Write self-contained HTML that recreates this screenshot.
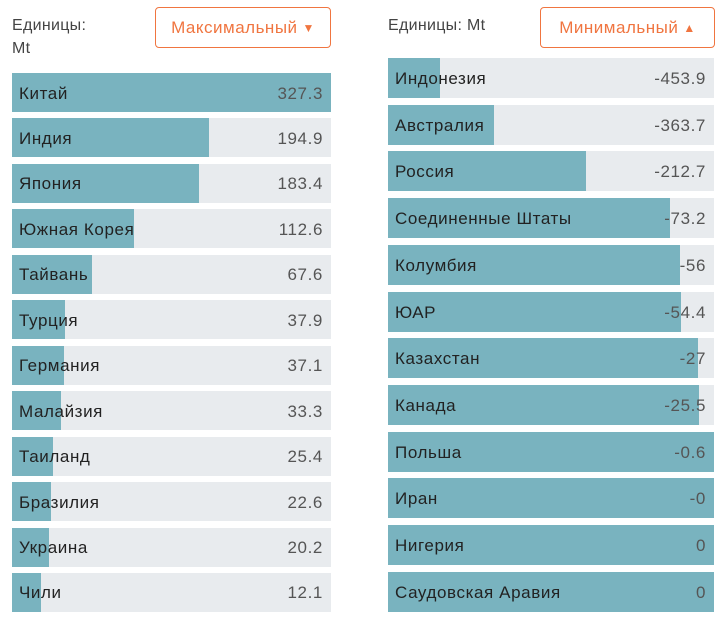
<!DOCTYPE html>
<html><head><meta charset="utf-8"><style>
body{margin:0;width:718px;height:622px;background:#fff;font-family:"Liberation Sans","DejaVu Sans",sans-serif;position:relative;overflow:hidden;color:#333}
.unit{position:absolute;font-size:16px;color:#444;line-height:23px;letter-spacing:0.3px}
.btn{position:absolute;border:1px solid #f07540;border-radius:4px;color:#f07540;font-size:17px;letter-spacing:0.5px;box-sizing:border-box;display:flex;align-items:center;justify-content:center;background:#fff;padding-top:1px}
.row{position:absolute;background:#e8ebee}
.bar{position:absolute;left:0;top:0;bottom:0;background:#79b3bf}
.lab{position:absolute;left:7px;top:2px;bottom:0;display:flex;align-items:center;font-size:17px;letter-spacing:0.6px;color:#222}
.val{position:absolute;right:8px;top:2px;bottom:0;display:flex;align-items:center;font-size:17px;letter-spacing:0.6px;color:#555}
</style></head><body>
<div class="unit" style="left:12px;top:14px">Единицы:<br>Mt</div>
<div class="btn" style="left:155px;top:7px;width:176px;height:41px">Максимальный <span style="font-size:12px;margin-left:5px">▼</span></div>
<div class="unit" style="left:388px;top:14px">Единицы: Mt</div>
<div class="btn" style="left:540px;top:7px;width:175px;height:41px">Минимальный <span style="font-size:12px;margin-left:5px">▲</span></div>
<div id="left"></div>
<div id="right"></div>
<script>
const leftNames=["Китай","Индия","Япония","Южная Корея","Тайвань","Турция","Германия","Малайзия","Таиланд","Бразилия","Украина","Чили"];
const leftValues=[327.3,194.9,183.4,112.6,67.6,37.9,37.1,33.3,25.4,22.6,20.2,12.1];
const leftLabels=["327.3","194.9","183.4","112.6","67.6","37.9","37.1","33.3","25.4","22.6","20.2","12.1"];
const rightNames=["Индонезия","Австралия","Россия","Соединенные Штаты","Колумбия","ЮАР","Казахстан","Канада","Польша","Иран","Нигерия","Саудовская Аравия"];
const rightValues=[-453.9,-363.7,-212.7,-73.2,-56,-54.4,-27,-25.5,-0.6,0,0,0];
const rightLabels=["-453.9","-363.7","-212.7","-73.2","-56","-54.4","-27","-25.5","-0.6","-0","0","0"];
function build(container,names,values,labels,x0,w,y0,step,h,scale,prefix){
  const c=document.getElementById(container);
  names.forEach((n,i)=>{
    const r=document.createElement('div');r.className='row';
    
    
    r.style.cssText=`left:${x0}px;top:${y0+i*step}px;width:${w}px;height:${h}px`;
    const b=document.createElement('div');b.className='bar';
    
    
    b.style.width=Math.max(0,Math.min(w,scale(values[i])))+'px';
    const l=document.createElement('div');l.className='lab';l.textContent=n;
    
    
    const v=document.createElement('div');v.className='val';v.textContent=labels[i];
    
    
    r.append(b,l,v);c.appendChild(r);
  });
}
const lmax=Math.max(...leftValues);
build('left',leftNames,leftValues,leftLabels,12,319,73,45.45,39,v=>18+v*(301/lmax),'left');
build('right',rightNames,rightValues,rightLabels,388,326,58,46.7,40,v=>326*(1-Math.abs(v)/540),'right');
</script>
</body></html>
